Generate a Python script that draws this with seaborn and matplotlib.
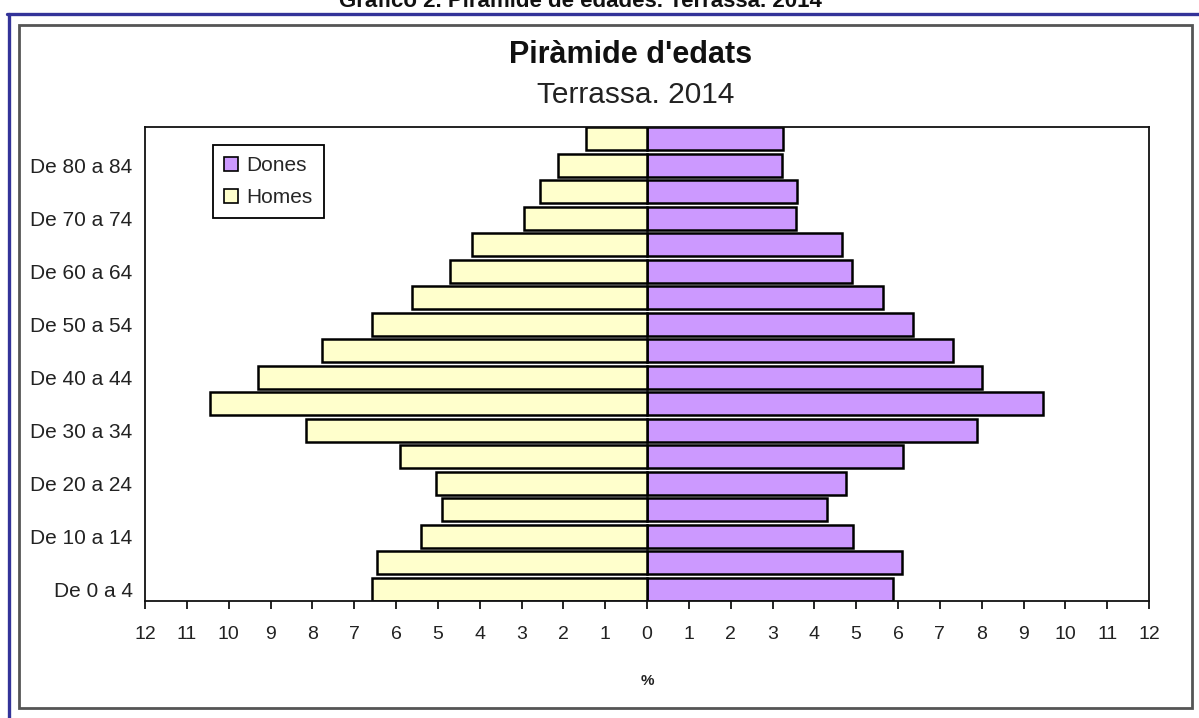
import numpy as np
import pandas as pd
import matplotlib
matplotlib.use("Agg")
import matplotlib.pyplot as plt
from matplotlib.lines import Line2D
from matplotlib.patches import Rectangle
import seaborn as sns

# ---- data (bottom to top) ----
grups = ["De 0 a 4", "De 5 a 9", "De 10 a 14", "De 15 a 19", "De 20 a 24",
         "De 25 a 29", "De 30 a 34", "De 35 a 39", "De 40 a 44", "De 45 a 49",
         "De 50 a 54", "De 55 a 59", "De 60 a 64", "De 65 a 69", "De 70 a 74",
         "De 75 a 79", "De 80 a 84", "De 85 i més"]
dones = [5.89, 6.09, 4.93, 4.30, 4.75, 6.12, 7.90, 9.47, 8.00, 7.32,
         6.37, 5.65, 4.89, 4.65, 3.56, 3.59, 3.22, 3.25]
homes = [6.57, 6.46, 5.41, 4.89, 5.04, 5.90, 8.15, 10.45, 9.29, 7.76,
         6.57, 5.61, 4.70, 4.18, 2.93, 2.55, 2.12, 1.47]
xticks = list(range(-12, 13))
ylabels_shown = ["De 0 a 4", "De 10 a 14", "De 20 a 24", "De 30 a 34", "De 40 a 44",
                 "De 50 a 54", "De 60 a 64", "De 70 a 74", "De 80 a 84"]

df = pd.DataFrame({
    "grup": grups * 2,
    "sexe": ["Dones"] * len(grups) + ["Homes"] * len(grups),
    "valor": dones + [-v for v in homes],
})

sns.set_theme(style="white")
plt.rcParams["font.family"] = ["Liberation Sans", "DejaVu Sans"]

W, H = 1199, 718
fig = plt.figure(figsize=(W / 100, H / 100), dpi=100)
fig.patch.set_facecolor("white")

L, R, T, B = 145, 1149, 127, 601
ax = fig.add_axes([L / W, 1 - B / H, (R - L) / W, (B - T) / H])

order = grups[::-1]
bar_h = 0.87
sns.barplot(data=df, x="valor", y="grup", hue="sexe", order=order,
            hue_order=["Dones", "Homes"], dodge=False, orient="h",
            palette={"Dones": "#CC99FF", "Homes": "#FFFFCC"}, saturation=1,
            edgecolor="black", linewidth=1.8, width=bar_h, ax=ax)

n = len(grups)
ax.set_ylim(n - 1 + bar_h / 2, -bar_h / 2)
ax.set_xlim(-12, 12)
ax.set_xticks(xticks)
ax.set_xticklabels([str(abs(t)) for t in xticks], fontsize=14, color="#222222")
ax.set_yticks([order.index(g) for g in ylabels_shown])
ax.set_yticklabels(ylabels_shown, fontsize=15, color="#222222")
ax.tick_params(axis="x", direction="out", length=6, width=1.2, color="black", pad=12, bottom=True)
ax.tick_params(axis="y", length=0, pad=9)
ax.set_ylabel("")
ax.set_xlabel("%", fontsize=11, fontweight="bold", color="#222222", labelpad=22)
for s in ax.spines.values():
    s.set_visible(True)
    s.set_color("#111111")
    s.set_linewidth(1.3)

handles, labels = ax.get_legend_handles_labels()
leg = ax.legend(handles, labels, loc="upper left", bbox_to_anchor=(0.0677, 0.962),
                borderaxespad=0, frameon=True, fancybox=False, framealpha=1,
                fontsize=15, handlelength=0.65, handleheight=0.65, handletextpad=0.4,
                labelspacing=0.6, borderpad=0.55, title=None)
leg.get_frame().set_edgecolor("black")
leg.get_frame().set_linewidth(1.3)
for hnd in leg.legend_handles:
    hnd.set_edgecolor("black")
    hnd.set_linewidth(1.2)

# titles
fig.text(631 / W, 1 - 55 / H, "Piràmide d'edats", ha="center", va="center",
         fontsize=22, fontweight="bold", color="#111111")
fig.text(636 / W, 1 - 95 / H, "Terrassa. 2014", ha="center", va="center",
         fontsize=21.5, color="#222222")
fig.text(580 / W, 1 - 7 / H, "Gráfico 2. Pirámide de edades. Terrassa. 2014",
         ha="center", va="baseline", fontsize=16, fontweight="bold", color="#111111")

# outer frames
fig.add_artist(Line2D([7 / W, 1.0], [1 - 13.5 / H, 1 - 13.5 / H], color="#333399",
                      lw=2.4, transform=fig.transFigure))
fig.add_artist(Line2D([9 / W, 9 / W], [0, 1 - 13.5 / H], color="#333399",
                      lw=2.4, transform=fig.transFigure))
fig.add_artist(Rectangle((19 / W, 1 - 708 / H), (1192 - 19) / W, (708 - 25) / H,
                         fill=False, edgecolor="#555555", lw=2.0,
                         transform=fig.transFigure))

fig.savefig("out.png", dpi=100)
